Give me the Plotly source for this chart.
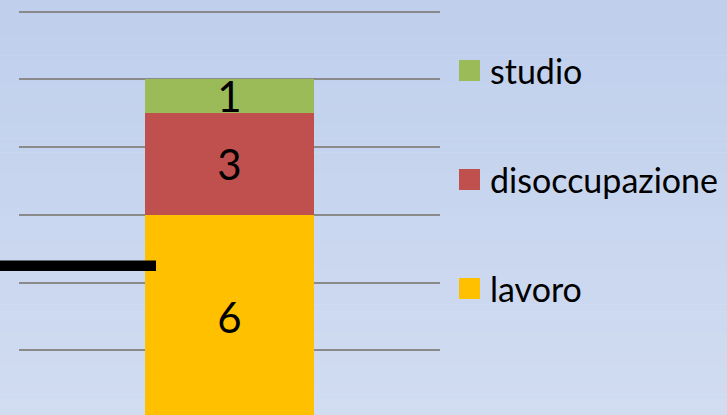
import plotly.graph_objects as go

# Stacked composition of a single group
series_names = ["lavoro", "disoccupazione", "studio"]
series_values = [6, 3, 1]
series_colors = ["#FFC000", "#C0504D", "#9BBB59"]
category = [0]

# Reference level drawn as a thick black marker on the left
marker_level = 4.5

W, H = 727, 415
M_L, M_R, M_T, M_B = 19, 287, 0, 0
Y_RANGE = [0.094, 12.345]

FONT = "Lato"

fig = go.Figure()

for name, val, col in zip(series_names, series_values, series_colors):
    fig.add_trace(go.Bar(
        x=category,
        y=[val],
        name=name,
        marker=dict(color=col, line=dict(width=0)),
        width=0.4,
        text=[str(val)],
        textposition="inside",
        insidetextanchor="middle",
        constraintext="none",
        textangle=0,
        textfont=dict(family=FONT, size=42, color="black"),
        showlegend=False,
        hoverinfo="skip",
    ))

plot_w = W - M_L - M_R
plot_h = H - M_T - M_B


def px_to_paper_x(px):
    return (px - M_L) / plot_w


def px_to_paper_y(py):
    return (H - M_B - py) / plot_h


shapes = []

# Vertical background gradient
top_rgb = (191, 207, 236)
bot_rgb = (209, 220, 241)
n_bands = 60
for i in range(n_bands):
    t = i / (n_bands - 1)
    r = round(top_rgb[0] + (bot_rgb[0] - top_rgb[0]) * t)
    g = round(top_rgb[1] + (bot_rgb[1] - top_rgb[1]) * t)
    b = round(top_rgb[2] + (bot_rgb[2] - top_rgb[2]) * t)
    y_top = H * i / n_bands
    y_bot = H * (i + 1) / n_bands + 0.5
    shapes.append(dict(
        type="rect", xref="paper", yref="paper", layer="below",
        x0=px_to_paper_x(-2), x1=px_to_paper_x(W + 2),
        y0=px_to_paper_y(y_bot), y1=px_to_paper_y(y_top),
        fillcolor=f"rgb({r},{g},{b})", line=dict(width=0),
    ))

# Thick black marker line
shapes.append(dict(
    type="line", xref="paper", yref="y", layer="above",
    x0=px_to_paper_x(-2), x1=px_to_paper_x(156),
    y0=marker_level, y1=marker_level,
    line=dict(color="black", width=10.5),
))

# Custom legend (top to bottom: studio, disoccupazione, lavoro)
annotations = []
legend_rows_py = [288.5, 179.5, 70.5]
sq = 21
for name, col, cy in zip(series_names, series_colors, legend_rows_py):
    shapes.append(dict(
        type="rect", xref="paper", yref="paper", layer="above",
        x0=px_to_paper_x(459), x1=px_to_paper_x(459 + sq),
        y0=px_to_paper_y(cy + sq / 2), y1=px_to_paper_y(cy - sq / 2),
        fillcolor=col, line=dict(width=0),
    ))
    annotations.append(dict(
        xref="paper", yref="paper",
        x=px_to_paper_x(488), y=px_to_paper_y(cy),
        xanchor="left", yanchor="middle",
        text=name, showarrow=False,
        font=dict(family=FONT, size=34, color="black"),
    ))

fig.update_layout(
    width=W, height=H,
    margin=dict(l=M_L, r=M_R, t=M_T, b=M_B, pad=0),
    barmode="stack",
    paper_bgcolor="rgba(0,0,0,0)",
    plot_bgcolor="rgba(0,0,0,0)",
    shapes=shapes,
    annotations=annotations,
    xaxis=dict(range=[-0.5, 0.5], visible=False, fixedrange=True),
    yaxis=dict(
        range=Y_RANGE, dtick=2, tick0=0,
        showgrid=True, gridcolor="#8a8a8a", gridwidth=1.75,
        zeroline=False, showticklabels=False, ticks="",
        showline=False, fixedrange=True,
    ),
    showlegend=False,
)

fig.write_html("out.html")
